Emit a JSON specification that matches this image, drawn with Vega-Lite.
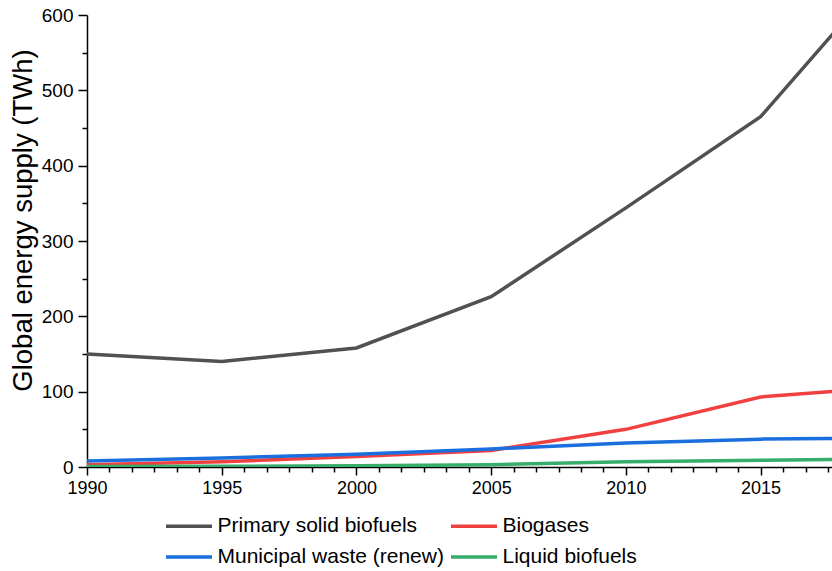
{
  "$schema": "https://vega.github.io/schema/vega-lite/v6.json",
  "width": 745,
  "height": 452,
  "autosize": {"type": "none"},
  "padding": {"left": 87, "top": 15, "right": 0, "bottom": 104},
  "background": "white",
  "config": {
    "view": {"stroke": null},
    "font": "Liberation Sans",
    "axis": {"grid": false, "domainColor": "black", "tickColor": "black", "labelColor": "black", "titleColor": "black", "domainWidth": 1.5, "tickWidth": 1.5, "labelFont": "Liberation Sans", "titleFont": "Liberation Sans", "titleFontWeight": "normal"}
  },
  "data": {
    "values": [
      {"year": 1990, "source": "Primary solid biofuels", "value": 150},
      {"year": 1995, "source": "Primary solid biofuels", "value": 140},
      {"year": 2000, "source": "Primary solid biofuels", "value": 158},
      {"year": 2005, "source": "Primary solid biofuels", "value": 226},
      {"year": 2010, "source": "Primary solid biofuels", "value": 344},
      {"year": 2015, "source": "Primary solid biofuels", "value": 465},
      {"year": 2018, "source": "Primary solid biofuels", "value": 588},
      {"year": 1990, "source": "Biogases", "value": 3},
      {"year": 1995, "source": "Biogases", "value": 7},
      {"year": 2000, "source": "Biogases", "value": 14},
      {"year": 2005, "source": "Biogases", "value": 22},
      {"year": 2010, "source": "Biogases", "value": 50},
      {"year": 2015, "source": "Biogases", "value": 93},
      {"year": 2018, "source": "Biogases", "value": 101},
      {"year": 1990, "source": "Municipal waste (renew)", "value": 8},
      {"year": 1995, "source": "Municipal waste (renew)", "value": 12},
      {"year": 2000, "source": "Municipal waste (renew)", "value": 17},
      {"year": 2005, "source": "Municipal waste (renew)", "value": 24},
      {"year": 2010, "source": "Municipal waste (renew)", "value": 32},
      {"year": 2015, "source": "Municipal waste (renew)", "value": 37},
      {"year": 2018, "source": "Municipal waste (renew)", "value": 38},
      {"year": 1990, "source": "Liquid biofuels", "value": 0.5},
      {"year": 1995, "source": "Liquid biofuels", "value": 1},
      {"year": 2000, "source": "Liquid biofuels", "value": 1.5},
      {"year": 2005, "source": "Liquid biofuels", "value": 3},
      {"year": 2010, "source": "Liquid biofuels", "value": 7},
      {"year": 2015, "source": "Liquid biofuels", "value": 9},
      {"year": 2018, "source": "Liquid biofuels", "value": 10}
    ]
  },
  "layer": [
    {
      "mark": {"type": "line", "strokeWidth": 3.5, "clip": true},
      "encoding": {
        "x": {"field": "year", "type": "quantitative", "scale": {"domain": [1990, 2017.65], "nice": false, "zero": false},
          "axis": {"orient": "bottom", "values": [1990, 1995, 2000, 2005, 2010, 2015], "format": "d", "title": null, "tickSize": 8, "labelFontSize": 18, "labelPadding": 4, "labelFlush": false, "labelOverlap": false}},
        "y": {"field": "value", "type": "quantitative", "scale": {"domain": [0, 600], "nice": false},
          "axis": {"orient": "left", "values": [0, 100, 200, 300, 400, 500, 600], "title": "Global energy supply (TWh)", "titleFontSize": 27.5, "titlePadding": 4, "titleY": 205, "tickSize": 9, "labelFontSize": 19, "labelPadding": 5}},
        "color": {"field": "source", "type": "nominal",
          "scale": {"domain": ["Primary solid biofuels", "Biogases", "Municipal waste (renew)", "Liquid biofuels"], "range": ["#515151", "#F14040", "#1A6FDF", "#37AD6B"]},
          "legend": {"title": null, "orient": "none", "legendX": 88.5, "legendY": 497.5, "direction": "horizontal", "columns": 2, "symbolType": "M-2,0H2", "symbolSize": 529, "symbolStrokeWidth": 3.5, "labelFontSize": 21, "labelColor": "black", "labelOffset": 15, "rowPadding": 7, "columnPadding": -1, "labelLimit": 400}}
      }
    },
    {
      "mark": {"type": "point", "opacity": 0},
      "encoding": {
        "x": {"field": "year", "type": "quantitative",
          "axis": {"orient": "bottom", "values": [1990.833, 1991.667, 1992.5, 1993.333, 1994.167, 1995.833, 1996.667, 1997.5, 1998.333, 1999.167, 2000.833, 2001.667, 2002.5, 2003.333, 2004.167, 2005.833, 2006.667, 2007.5, 2008.333, 2009.167, 2010.833, 2011.667, 2012.5, 2013.333, 2014.167, 2015.833, 2016.667, 2017.5], "labels": false, "domain": false, "title": null, "tickSize": 5}},
        "y": {"field": "value", "type": "quantitative",
          "axis": {"orient": "left", "values": [50, 150, 250, 350, 450, 550], "labels": false, "domain": false, "title": null, "tickSize": 5}}
      }
    }
  ],
  "resolve": {"axis": {"x": "independent", "y": "independent"}}
}
